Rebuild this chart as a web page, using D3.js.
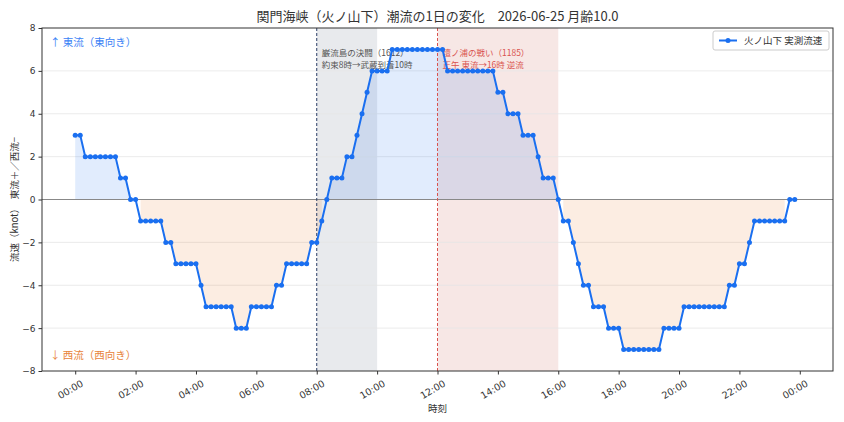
<!DOCTYPE html>
<html>
<head>
<meta charset="utf-8">
<script src="https://cdn.jsdelivr.net/npm/d3@7"></script>
<style>
  body { margin: 0; background: #fff; }
  svg { display: block; font-family: "Noto Sans CJK JP", "Noto Sans", sans-serif; }
</style>
</head>
<body>
<div id="chart"></div>
<script>
// observed speed every 10 min, 00:00 .. 23:50 (knot, + = east, - = west)
const SPEED = [
  3, 3, 2, 2, 2, 2, 2, 2, 2, 1, 1, 0,
  0, -1, -1, -1, -1, -1, -2, -2, -3, -3, -3, -3,
  -3, -4, -5, -5, -5, -5, -5, -5, -6, -6, -6, -5,
  -5, -5, -5, -5, -4, -4, -3, -3, -3, -3, -3, -2,
  -2, -1, 0, 1, 1, 1, 2, 2, 3, 4, 5, 6,
  6, 6, 6, 7, 7, 7, 7, 7, 7, 7, 7, 7,
  7, 7, 6, 6, 6, 6, 6, 6, 6, 6, 6, 6,
  5, 5, 4, 4, 4, 3, 3, 3, 2, 1, 1, 1,
  0, -1, -1, -2, -3, -4, -4, -5, -5, -5, -6, -6,
  -6, -7, -7, -7, -7, -7, -7, -7, -7, -6, -6, -6,
  -6, -5, -5, -5, -5, -5, -5, -5, -5, -5, -4, -4,
  -3, -3, -2, -1, -1, -1, -1, -1, -1, -1, 0, 0
];
const STEP_MIN = 10;
const X_TICKS = [0, 120, 240, 360, 480, 600, 720, 840, 960, 1080, 1200, 1320, 1440];
const Y_TICKS = [-8, -6, -4, -2, 0, 2, 4, 6, 8];

// event spans (minutes)
const SPANS = [
  { from: 480, to: 600, fill: '#5c6b80', op: 0.14, line: '#2c3e66',
    lines: ['巌流島の決闘（1612）', '約束8時→武蔵到着10時'], color: '#555' },
  { from: 720, to: 960, fill: '#c0392b', op: 0.12, line: '#d9534f',
    lines: ['壇ノ浦の戦い（1185）', '正午 東流→16時 逆流'], color: '#d9534f' }
];

const TITLE = '関門海峡（火ノ山下）潮流の1日の変化　2026-06-25 月齢10.0';
const LINE_C = '#1a6ff0';

const W = 844, H = 422;
const M = { top: 28, right: 11, bottom: 51, left: 42 };
const innerW = W - M.left - M.right, innerH = H - M.top - M.bottom;

const pts = SPEED.map((v, i) => ({ t: i * STEP_MIN, v }));

const x = d3.scaleLinear().domain([-66, 1506]).range([0, innerW]);
const y = d3.scaleLinear().domain([-8, 8]).range([innerH, 0]);

const svg = d3.select('#chart').append('svg').attr('width', W).attr('height', H);
const g = svg.append('g').attr('transform', `translate(${M.left},${M.top})`);

// spans
SPANS.forEach(s => {
  g.append('rect').attr('x', x(s.from)).attr('width', x(s.to) - x(s.from))
    .attr('y', 0).attr('height', innerH).attr('fill', s.fill).attr('opacity', s.op);
});

// grid
g.append('g').selectAll('line').data(Y_TICKS.filter(d => d !== 0 && Math.abs(d) !== 8)).join('line')
  .attr('x1', 0).attr('x2', innerW).attr('y1', d => y(d)).attr('y2', d => y(d))
  .attr('stroke', '#e6e6e6').attr('stroke-width', 0.8);

// fills (positive / negative runs)
function runs(test) {
  const out = []; let cur = [];
  pts.forEach(p => {
    if (test(p.v)) cur.push(p);
    else { if (cur.length) out.push(cur); cur = []; }
  });
  if (cur.length) out.push(cur);
  return out;
}
const area = d3.area().x(d => x(d.t)).y0(y(0)).y1(d => y(d.v));
runs(v => v >= 0).forEach(r => g.append('path').attr('d', area(r))
  .attr('fill', LINE_C).attr('opacity', 0.13));
runs(v => v < 0).forEach(r => g.append('path').attr('d', area(r))
  .attr('fill', '#e8833a').attr('opacity', 0.15));

// zero line
g.append('line').attr('x1', 0).attr('x2', innerW).attr('y1', y(0)).attr('y2', y(0))
  .attr('stroke', '#888').attr('stroke-width', 1);

// event lines + notes
SPANS.forEach(s => {
  g.append('line').attr('x1', x(s.from)).attr('x2', x(s.from)).attr('y1', 0).attr('y2', innerH)
    .attr('stroke', s.line).attr('stroke-width', 1).attr('stroke-dasharray', '3,2');
  s.lines.forEach((l, i) => g.append('text')
    .attr('x', x(s.from) + 5).attr('y', 27.5 + i * 12)
    .style('font-size', '8.5px').attr('fill', s.color).text(l));
});

// direction notes
g.append('text').attr('x', 8).attr('y', 18).style('font-size', '10.5px')
  .attr('fill', '#3b82f6').text('↑ 東流（東向き）');
g.append('text').attr('x', 8).attr('y', innerH - 12).style('font-size', '10.5px')
  .attr('fill', '#e8833a').text('↓ 西流（西向き）');

// series
g.append('path').datum(pts)
  .attr('d', d3.line().x(d => x(d.t)).y(d => y(d.v)))
  .attr('fill', 'none').attr('stroke', LINE_C).attr('stroke-width', 2);
g.append('g').selectAll('circle').data(pts).join('circle')
  .attr('cx', d => x(d.t)).attr('cy', d => y(d.v)).attr('r', 2.5).attr('fill', LINE_C);

// axes
const fmtT = m => d3.format('02d')(Math.floor(m / 60) % 24) + ':' + d3.format('02d')(m % 60);
const gx = g.append('g').attr('transform', `translate(0,${innerH})`)
  .call(d3.axisBottom(x).tickValues(X_TICKS).tickSize(3.5).tickFormat(fmtT));
gx.selectAll('text').attr('text-anchor', 'end')
  .attr('transform', 'translate(0,2) rotate(-30)').attr('dy', '0.9em').attr('dx', '0.1em');
const gy = g.append('g').call(d3.axisLeft(y).tickValues(Y_TICKS).tickSize(3.5));
[gx, gy].forEach(a => {
  a.select('.domain').remove();
  a.selectAll('text').style('font-size', '9.5px').attr('fill', '#333')
    .style('font-family', '"DejaVu Sans", sans-serif');
  a.selectAll('line').attr('stroke', '#333');
});
gy.selectAll('text').style('font-size', '9px');

g.append('rect').attr('width', innerW).attr('height', innerH)
  .attr('fill', 'none').attr('stroke', '#333').attr('stroke-width', 1);

// labels
svg.append('text').attr('x', M.left + innerW / 2).attr('y', 21).attr('text-anchor', 'middle')
  .style('font-size', '13px').attr('fill', '#333').text(TITLE);
svg.append('text').attr('x', M.left + innerW / 2).attr('y', 412).attr('text-anchor', 'middle')
  .style('font-size', '9.5px').attr('fill', '#333').text('時刻');
svg.append('text').attr('transform', `translate(18,${M.top + innerH / 2}) rotate(-90)`)
  .attr('text-anchor', 'middle').style('font-size', '9.5px').attr('fill', '#333')
  .text('流速（knot）　東流＋／西流−');

// legend
const lg = g.append('g').attr('transform', `translate(${innerW - 120},3)`);
lg.append('rect').attr('width', 116).attr('height', 19).attr('rx', 2)
  .attr('fill', '#fff').attr('fill-opacity', 0.85).attr('stroke', '#ccc');
lg.append('line').attr('x1', 6).attr('x2', 24).attr('y1', 9.5).attr('y2', 9.5)
  .attr('stroke', LINE_C).attr('stroke-width', 2);
lg.append('circle').attr('cx', 15).attr('cy', 9.5).attr('r', 2.5).attr('fill', LINE_C);
lg.append('text').attr('x', 31).attr('y', 13).style('font-size', '9.5px').attr('fill', '#333')
  .text('火ノ山下 実測流速');
</script>
</body>
</html>
